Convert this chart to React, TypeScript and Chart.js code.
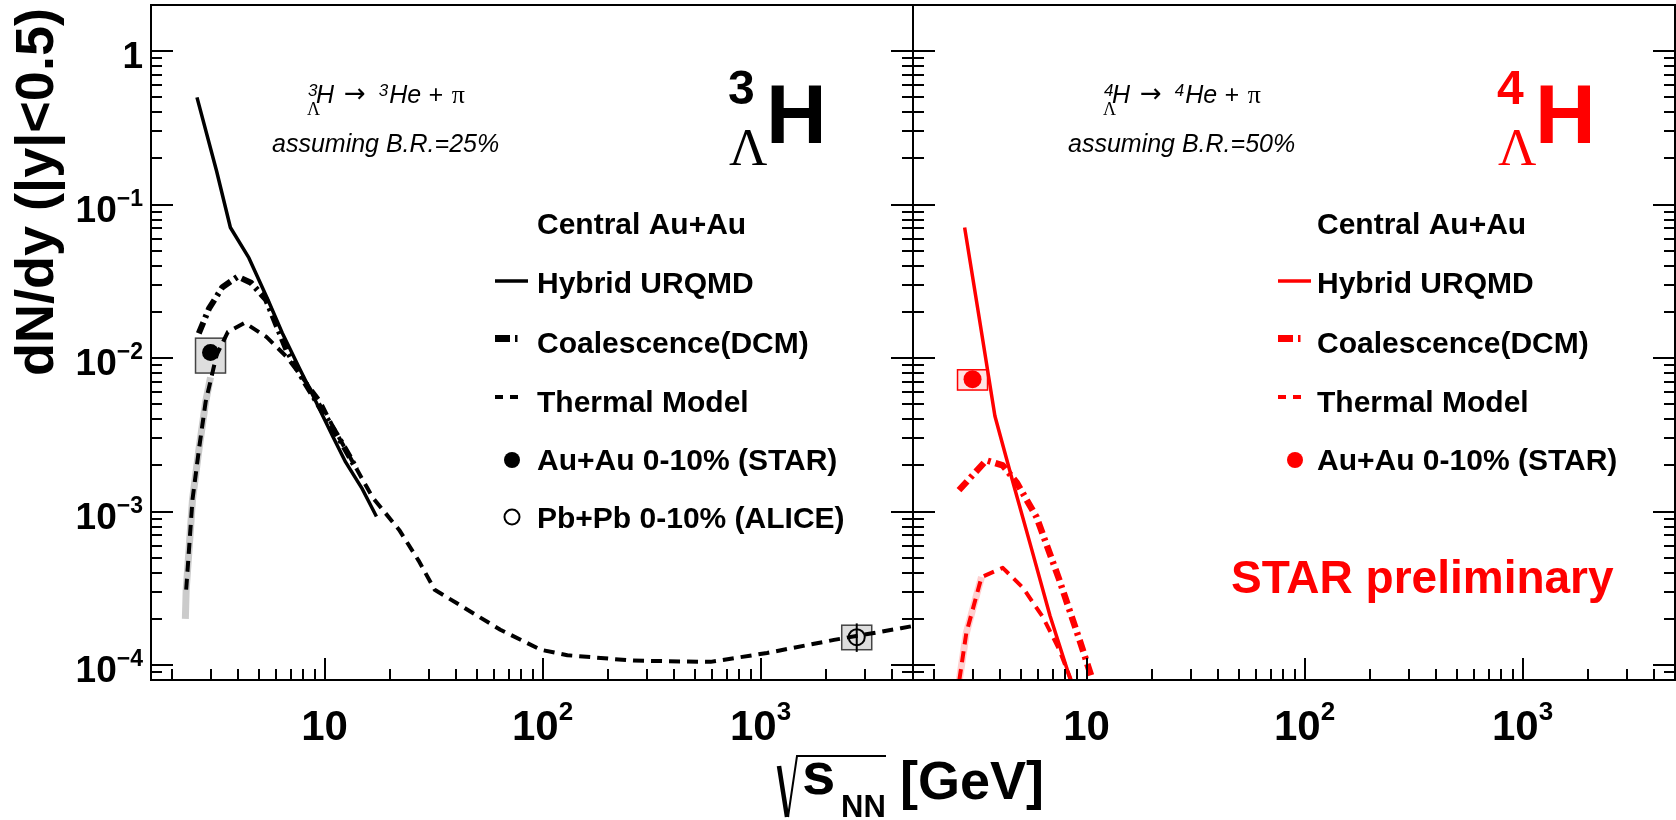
import React, { useEffect, useRef } from "react";
import { Chart, registerables } from "chart.js";

Chart.register(...registerables);

const W = 1676;
const H = 820;
const X_MIN = 1.6;
const X_MAX = 5000;
const Y_MIN = 8e-5;
const Y_MAX = 2.0;

// ---------- left panel: 3-Lambda-H ----------
const hybrid3X = [2.6, 3.2, 3.7, 4.5, 5.5, 6.4, 7.7, 8.8, 10.9, 12.5, 14.8, 17.3];
const hybrid3Y = [0.5, 0.165, 0.071, 0.045, 0.024, 0.0146, 0.0085, 0.0058, 0.0031, 0.0021, 0.00143, 0.00093];
const coal3X = [2.65, 2.95, 3.4, 4.0, 4.6, 5.4, 6.7, 8.2, 9.7, 12.0, 14.0];
const coal3Y = [0.0145, 0.021, 0.029, 0.034, 0.031, 0.024, 0.0113, 0.0068, 0.0046, 0.0028, 0.0019];
const thermal3X = [2.32, 2.48, 2.66, 2.85, 3.2, 3.6, 4.3, 5.4, 6.7, 9.5, 10.9, 16.6, 22, 27, 32, 64, 98, 130, 260, 590, 1070, 2170, 4400, 5000];
const thermal3Y = [0.00031, 0.0012, 0.0026, 0.0052, 0.0105, 0.0148, 0.017, 0.0138, 0.0102, 0.0053, 0.0036, 0.00124, 0.00076, 0.00048, 0.00031, 0.00017, 0.000126, 0.000116, 0.000107, 0.000105, 0.00012, 0.000146, 0.000174, 0.00018];
const band3X = [2.3, 2.32, 2.4, 2.48, 2.66, 2.85, 3.0];
const band3Y = [0.0002, 0.00031, 0.00061, 0.0012, 0.0026, 0.0052, 0.0075];
const star3X = [3.0];
const star3Y = [0.0109];
const star3SysLo = [0.008];
const star3SysHi = [0.0135];
const alice3X = [2760];
const alice3Y = [0.000152];
const alice3SysLo = [0.000126];
const alice3SysHi = [0.000182];
const alice3StatLo = [0.000122];
const alice3StatHi = [0.000187];

// ---------- right panel: 4-Lambda-H ----------
const hybrid4X = [2.76, 3.23, 3.8, 4.6, 5.6, 6.8, 8.4, 8.8];
const hybrid4Y = [0.071, 0.0178, 0.0042, 0.00155, 0.00057, 0.00021, 0.000082, 0.000066];
const coal4X = [2.6, 3.47, 4.13, 4.78, 5.9, 7.5, 9.3, 10.4, 10.8];
const coal4Y = [0.00138, 0.00216, 0.002, 0.00155, 0.00092, 0.00036, 0.000145, 0.000089, 0.000075];
const thermal4X = [2.61, 2.81, 3.3, 4.13, 5.1, 6.3, 7.5, 8.4, 8.7];
const thermal4Y = [0.00008, 0.000162, 0.000375, 0.00043, 0.00032, 0.000206, 0.000126, 0.000083, 0.000072];
const band4X = [2.61, 2.81, 3.05, 3.3];
const band4Y = [0.00008, 0.000162, 0.00025, 0.000375];
const star4X = [3.0];
const star4Y = [0.0073];
const star4SysLo = [0.0062];
const star4SysHi = [0.0084];

// ---------- axis labels ----------
const yTickValues = [1, 0.1, 0.01, 0.001, 0.0001];
const yTickBase = ["1", "10", "10", "10", "10"];
const yTickSup = ["", "\u22121", "\u22122", "\u22123", "\u22124"];
const xTickValues = [10, 100, 1000];
const xTickBase = ["10", "10", "10"];
const xTickSup = ["", "2", "3"];

const yTitle = "dN/dy (|y|<0.5)";
const legend3Labels = ["Central Au+Au", "Hybrid URQMD", "Coalescence(DCM)", "Thermal Model", "Au+Au 0-10% (STAR)", "Pb+Pb 0-10% (ALICE)"];
const legend4Labels = ["Central Au+Au", "Hybrid URQMD", "Coalescence(DCM)", "Thermal Model", "Au+Au 0-10% (STAR)"];

const FONT = '"Liberation Sans", Arial, Helvetica, sans-serif';
const SERIF = '"Liberation Serif", "Times New Roman", Times, serif';
const DEJAVU = '"DejaVu Sans", sans-serif';
const RED = "#ff0000";

function f(size: number, weight = "normal", style = "normal", fam = FONT) {
  return `${style} ${weight} ${size}px ${fam}`;
}

function pts(xs: number[], ys: number[]) {
  return xs.map((x, i) => ({ x, y: ys[i] }));
}

function lineDs(label: string, xs: number[], ys: number[], color: string, width: number, dash: number[]) {
  return {
    label,
    data: pts(xs, ys),
    borderColor: color,
    backgroundColor: color,
    borderWidth: width,
    borderDash: dash,
    borderCapStyle: "butt",
    borderJoinStyle: "round",
    pointRadius: 0,
    pointHoverRadius: 0,
    fill: false,
    tension: 0,
    clip: 0,
  };
}

function pointDs(label: string, xs: number[], ys: number[], stroke: string, fillC: string, r: number, bw: number) {
  return {
    label,
    data: pts(xs, ys),
    showLine: false,
    pointRadius: r,
    pointHoverRadius: r,
    pointBackgroundColor: fillC,
    pointBorderColor: stroke,
    pointBorderWidth: bw,
    pointStyle: "circle",
    clip: false,
  };
}

function drawSysBoxes(chart: any, xs: number[], lo: number[], hi: number[], fillC: string, stroke: string) {
  const { ctx } = chart;
  const sx = chart.scales.x;
  const sy = chart.scales.y;
  ctx.save();
  xs.forEach((x, i) => {
    const px = sx.getPixelForValue(x);
    const y1 = sy.getPixelForValue(hi[i]);
    const y2 = sy.getPixelForValue(lo[i]);
    ctx.fillStyle = fillC;
    ctx.fillRect(px - 15, y1, 30, y2 - y1);
    ctx.strokeStyle = stroke;
    ctx.lineWidth = 1.5;
    ctx.strokeRect(px - 15, y1, 30, y2 - y1);
  });
  ctx.restore();
}

function drawDecay(ctx: CanvasRenderingContext2D, x0: number, base: number, mass: string, br: string, bx: number) {
  ctx.fillStyle = "#000";
  ctx.textAlign = "left";
  ctx.textBaseline = "alphabetic";
  ctx.font = f(17, "normal", "italic");
  ctx.fillText(mass, x0 + 1, base - 7);
  ctx.font = f(18, "normal", "normal", SERIF);
  ctx.fillText("\u039B", x0, base + 12);
  let cx = x0 + 9;
  ctx.font = f(25, "normal", "italic");
  ctx.fillText("H", cx, base);
  cx += ctx.measureText("H").width + 10;
  ctx.font = f(26, "normal", "normal", DEJAVU);
  ctx.fillText("\u2192", cx, base - 1);
  cx += ctx.measureText("\u2192").width + 13;
  ctx.font = f(17, "normal", "italic");
  ctx.fillText(mass, cx, base - 7);
  cx += ctx.measureText(mass).width + 1;
  ctx.font = f(25, "normal", "italic");
  ctx.fillText("He + ", cx, base);
  cx += ctx.measureText("He + ").width + 2;
  ctx.font = f(26, "normal", "normal", SERIF);
  ctx.fillText("\u03C0", cx, base);
  ctx.font = f(25, "normal", "italic");
  ctx.fillText(br, bx, base + 49);
}

function drawBig(ctx: CanvasRenderingContext2D, x: number, mass: string, color: string) {
  ctx.fillStyle = color;
  ctx.textAlign = "left";
  ctx.textBaseline = "alphabetic";
  ctx.font = f(48, "bold");
  ctx.fillText(mass, x - 2, 104);
  ctx.font = f(53, "normal", "normal", SERIF);
  ctx.fillText("\u039B", x - 1, 165);
  ctx.font = f(84, "bold");
  ctx.fillText("H", x + 36, 143);
}

function drawLegend(ctx: CanvasRenderingContext2D, labels: string[], sx: number, tx: number, color: string) {
  const rows = [234, 293, 353, 412, 470, 528];
  ctx.textAlign = "left";
  ctx.textBaseline = "alphabetic";
  ctx.fillStyle = "#000";
  ctx.font = f(30, "bold");
  labels.forEach((t, i) => ctx.fillText(t, tx, rows[i]));
  ctx.strokeStyle = color;
  ctx.fillStyle = color;
  ctx.setLineDash([]);
  ctx.lineWidth = 3.5;
  ctx.beginPath();
  ctx.moveTo(sx, rows[1] - 12);
  ctx.lineTo(sx + 33, rows[1] - 12);
  ctx.stroke();
  ctx.fillRect(sx, rows[2] - 18, 15, 7);
  ctx.fillRect(sx + 20, rows[2] - 18, 2.5, 7);
  ctx.fillRect(sx, rows[3] - 17, 8, 4);
  ctx.fillRect(sx + 15, rows[3] - 17, 8, 4);
  ctx.beginPath();
  ctx.arc(sx + 17, rows[4] - 10, 8, 0, Math.PI * 2);
  ctx.fill();
  if (labels.length > 5) {
    ctx.strokeStyle = "#000";
    ctx.lineWidth = 2;
    ctx.beginPath();
    ctx.arc(sx + 17, rows[5] - 11, 7.5, 0, Math.PI * 2);
    ctx.stroke();
  }
}

function framePlugin(panel: "left" | "right") {
  return {
    id: "frame_" + panel,
    beforeDatasetsDraw(chart: any) {
      if (panel === "left") {
        drawSysBoxes(chart, star3X, star3SysLo, star3SysHi, "#dedede", "#444");
        drawSysBoxes(chart, alice3X, alice3SysLo, alice3SysHi, "#dedede", "#444");
      } else {
        drawSysBoxes(chart, star4X, star4SysLo, star4SysHi, "#ffe3e3", RED);
      }
    },
    afterDatasetsDraw(chart: any) {
      if (panel !== "left") return;
      const { ctx } = chart;
      const sx = chart.scales.x;
      const sy = chart.scales.y;
      ctx.save();
      ctx.strokeStyle = "#000";
      ctx.lineWidth = 2;
      alice3X.forEach((x, i) => {
        const px = sx.getPixelForValue(x);
        ctx.beginPath();
        ctx.moveTo(px, sy.getPixelForValue(alice3StatHi[i]));
        ctx.lineTo(px, sy.getPixelForValue(alice3StatLo[i]));
        ctx.stroke();
      });
      ctx.restore();
    },
    afterDraw(chart: any) {
      const ctx: CanvasRenderingContext2D = chart.ctx;
      const a = chart.chartArea;
      const sx = chart.scales.x;
      const sy = chart.scales.y;
      ctx.save();
      ctx.setLineDash([]);
      ctx.strokeStyle = "#000";
      ctx.lineWidth = 2;
      ctx.strokeRect(a.left, a.top, a.right - a.left, a.bottom - a.top);
      ctx.beginPath();
      for (let e = 0; e <= 3; e++) {
        for (let m = 1; m <= 9; m++) {
          const v = m * Math.pow(10, e);
          if (v <= X_MIN * 1.001 || v >= X_MAX * 0.999) continue;
          const p = Math.round(sx.getPixelForValue(v));
          const L = m === 1 ? 22 : 11;
          ctx.moveTo(p, a.bottom);
          ctx.lineTo(p, a.bottom - L);
        }
      }
      for (let e = -5; e <= 0; e++) {
        for (let m = 1; m <= 9; m++) {
          const v = m * Math.pow(10, e);
          if (v <= Y_MIN * 1.001 || v >= Y_MAX * 0.98) continue;
          const p = Math.round(sy.getPixelForValue(v));
          const L = m === 1 ? 22 : 11;
          ctx.moveTo(a.left, p);
          ctx.lineTo(a.left + L, p);
          ctx.moveTo(a.right, p);
          ctx.lineTo(a.right - L, p);
        }
      }
      ctx.stroke();

      // x tick labels
      ctx.fillStyle = "#000";
      ctx.textBaseline = "alphabetic";
      ctx.textAlign = "left";
      xTickValues.forEach((v, i) => {
        const px = sx.getPixelForValue(v);
        ctx.font = f(42, "bold");
        const wb = ctx.measureText(xTickBase[i]).width;
        ctx.font = f(26, "bold");
        const ws = xTickSup[i] ? ctx.measureText(xTickSup[i]).width : 0;
        const start = px - (wb + ws) / 2;
        ctx.font = f(42, "bold");
        ctx.fillText(xTickBase[i], start, 740);
        if (xTickSup[i]) {
          ctx.font = f(26, "bold");
          ctx.fillText(xTickSup[i], start + wb, 720);
        }
      });

      if (panel === "left") {
        // y tick labels
        yTickValues.forEach((v, i) => {
          const py = sy.getPixelForValue(v);
          ctx.font = f(37, "bold");
          const wb = ctx.measureText(yTickBase[i]).width;
          ctx.font = f(23, "bold");
          const ws = yTickSup[i] ? ctx.measureText(yTickSup[i]).width : 0;
          const start = 143 - wb - ws;
          ctx.font = f(37, "bold");
          ctx.fillText(yTickBase[i], start, py + 17);
          if (yTickSup[i]) {
            ctx.font = f(23, "bold");
            ctx.fillText(yTickSup[i], start + wb, py + 1);
          }
        });
        // y title
        ctx.save();
        ctx.translate(53, 192);
        ctx.rotate(-Math.PI / 2);
        ctx.textAlign = "center";
        ctx.font = f(54, "bold");
        ctx.fillText(yTitle, 0, 0);
        ctx.restore();
        // x title
        ctx.strokeStyle = "#000";
        ctx.lineWidth = 4.5;
        ctx.beginPath();
        ctx.moveTo(779, 766);
        ctx.lineTo(787, 817);
        ctx.stroke();
        ctx.lineWidth = 2;
        ctx.beginPath();
        ctx.moveTo(788, 817);
        ctx.lineTo(797, 756);
        ctx.lineTo(886, 756);
        ctx.stroke();
        ctx.textAlign = "left";
        ctx.font = f(60, "bold");
        ctx.fillText("s", 802, 794);
        ctx.font = f(31, "bold");
        ctx.fillText("NN", 841, 817);
        ctx.font = f(54, "bold");
        ctx.fillText("[GeV]", 900, 799);

        drawDecay(ctx, 307, 103, "3", "assuming B.R.=25%", 272);
        drawBig(ctx, 730, "3", "#000");
        drawLegend(ctx, legend3Labels, 495, 537, "#000");
      } else {
        drawDecay(ctx, 1103, 103, "4", "assuming B.R.=50%", 1068);
        drawBig(ctx, 1499, "4", RED);
        drawLegend(ctx, legend4Labels, 1278, 1317, RED);
        ctx.fillStyle = RED;
        ctx.textAlign = "left";
        ctx.font = f(46, "bold");
        ctx.fillText("STAR preliminary", 1231, 593);
      }
      ctx.restore();
    },
  };
}

function buildConfig(panel: "left" | "right"): any {
  const isLeft = panel === "left";
  const datasets = isLeft
    ? [
        pointDs("Au+Au 0-10% (STAR)", star3X, star3Y, "#000", "#000", 8.5, 0),
        pointDs("Pb+Pb 0-10% (ALICE)", alice3X, alice3Y, "#000", "rgba(0,0,0,0)", 8, 2),
        lineDs("Hybrid URQMD", hybrid3X, hybrid3Y, "#000", 3.5, []),
        lineDs("Coalescence(DCM)", coal3X, coal3Y, "#000", 6, [12, 5, 3, 5]),
        lineDs("Thermal Model", thermal3X, thermal3Y, "#000", 4, [11, 7]),
        lineDs("Thermal band", band3X, band3Y, "rgba(185,185,185,0.75)", 7, []),
      ]
    : [
        pointDs("Au+Au 0-10% (STAR)", star4X, star4Y, RED, RED, 9, 0),
        lineDs("Hybrid URQMD", hybrid4X, hybrid4Y, RED, 3.5, []),
        lineDs("Coalescence(DCM)", coal4X, coal4Y, RED, 6.5, [12, 5, 3, 5]),
        lineDs("Thermal Model", thermal4X, thermal4Y, RED, 4, [11, 7]),
        lineDs("Thermal band", band4X, band4Y, "rgba(255,150,150,0.45)", 7, []),
      ];
  return {
    type: "line",
    data: { datasets },
    options: {
      responsive: false,
      maintainAspectRatio: false,
      animation: false,
      devicePixelRatio: 1,
      events: [],
      layout: {
        autoPadding: false,
        padding: { left: isLeft ? 0 : 913, right: isLeft ? W - 913 : W - 1675, top: 5, bottom: 0 },
      },
      plugins: { legend: { display: false }, tooltip: { enabled: false }, title: { display: false } },
      scales: {
        x: {
          type: "logarithmic",
          min: X_MIN,
          max: X_MAX,
          ticks: { display: false },
          grid: { display: false },
          border: { display: false },
          afterFit(s: any) {
            s.height = H - 680;
          },
        },
        y: {
          type: "logarithmic",
          min: Y_MIN,
          max: Y_MAX,
          ticks: { display: false },
          grid: { display: false },
          border: { display: false },
          afterFit(s: any) {
            s.width = isLeft ? 151 : 0;
          },
        },
      },
    },
    plugins: [framePlugin(panel)],
  };
}

export default function App() {
  const leftRef = useRef<HTMLCanvasElement>(null);
  const rightRef = useRef<HTMLCanvasElement>(null);
  useEffect(() => {
    document.body.style.margin = "0";
    const c1 = new Chart(leftRef.current as HTMLCanvasElement, buildConfig("left"));
    const c2 = new Chart(rightRef.current as HTMLCanvasElement, buildConfig("right"));
    return () => {
      c1.destroy();
      c2.destroy();
    };
  }, []);
  return (
    <div style={{ position: "relative", width: W, height: H, background: "#fff", overflow: "hidden" }}>
      <canvas ref={leftRef} width={W} height={H} style={{ position: "absolute", left: 0, top: 0 }} />
      <canvas ref={rightRef} width={W} height={H} style={{ position: "absolute", left: 0, top: 0 }} />
    </div>
  );
}
